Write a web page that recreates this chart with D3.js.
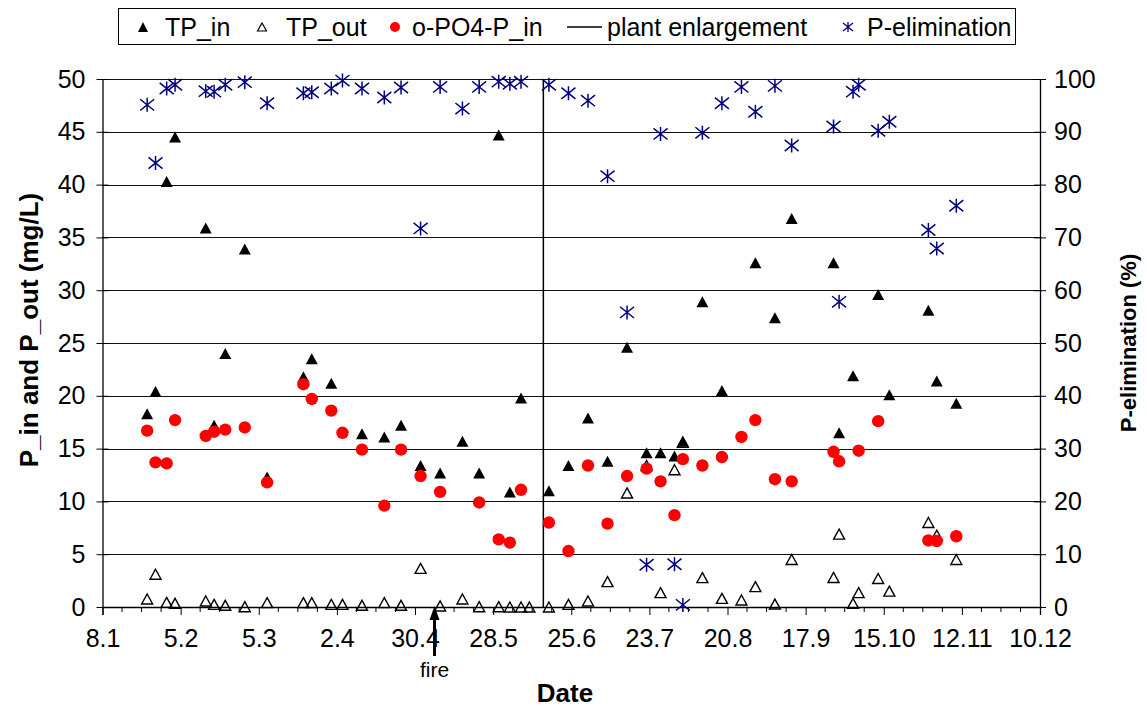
<!DOCTYPE html>
<html>
<head>
<meta charset="utf-8">
<script src="https://cdn.jsdelivr.net/npm/d3@7"></script>
<style>
  html, body { margin: 0; padding: 0; background: #fff; }
  svg { display: block; font-family: "Liberation Sans", Arial, sans-serif; }
</style>
</head>
<body>
<svg id="chart" width="1147" height="708"></svg>
<script>
// ---------------- DATA ----------------
const sampleDates = [
  "2001-01-24","2001-01-27","2001-01-31","2001-02-03","2001-02-14","2001-02-17","2001-02-21","2001-02-28",
  "2001-03-08","2001-03-21","2001-03-24","2001-03-31","2001-04-04","2001-04-11","2001-04-19","2001-04-25",
  "2001-05-02","2001-05-09","2001-05-17","2001-05-23","2001-05-30","2001-06-03","2001-06-07","2001-06-10",
  "2001-06-17","2001-06-24","2001-07-01","2001-07-08","2001-07-15","2001-07-22","2001-07-27","2001-08-01",
  "2001-08-04","2001-08-11","2001-08-18","2001-08-25","2001-08-30","2001-09-06","2001-09-12","2001-09-27",
  "2001-09-29","2001-10-04","2001-10-06","2001-10-13","2001-10-17","2001-10-31","2001-11-03","2001-11-10"
];
const tpIn = [
  18.3, 20.4, 40.3, 44.5, 35.9, 17.2, 24.0, 33.9,
  12.3, 21.8, 23.5, 21.2, null, 16.4, 16.1, 17.2,
  13.4, 12.7, 15.7, 12.7, 44.7, 10.9, 19.8, null,
  11.0, 13.4, 17.9, 13.8, 24.6, 14.6, 14.6, 14.3,
  15.7, 28.9, 20.5, null, 32.6, 27.4, 36.8, 32.6,
  16.5, 21.9, null, 29.6, 20.1, 28.1, 21.4, 19.3
];
const tpOut = [
  0.76, 3.1, 0.44, 0.35, 0.57, 0.25, 0.16, 0.03,
  0.41, 0.41, 0.41, 0.25, 0.25, 0.16, 0.41, 0.16,
  3.66, 0.10, 0.76, 0.03, 0.03, 0.0, 0.0, 0.0,
  0.0, 0.25, 0.57, 2.4, 10.8, 13.4, 1.36, 13.0,
  15.6, 2.78, 0.82, 0.66, 1.93, 0.28, 4.5, 2.8,
  6.9, 0.35, 1.36, 2.7, 1.5, 8.0, 6.8, 4.5
];
const oPO4 = [
  16.7, 13.7, 13.6, 17.7, 16.2, 16.6, 16.8, 17.0,
  11.8, 21.1, 19.7, 18.6, 16.5, 14.9, 9.6, 14.9,
  12.4, 10.9, null, 9.9, 6.4, 6.1, 11.1, null,
  8.0, 5.3, 13.4, 7.9, 12.4, 13.1, 11.9, 8.7,
  14.0, 13.4, 14.2, 16.1, 17.7, 12.1, 11.9, 14.7,
  13.8, null, 14.8, 17.6, null, 6.3, 6.25, 6.7
];
const pElim = [
  95.1, 84.1, 98.2, 98.9, 97.7, 97.6, 98.9, 99.4,
  95.4, 97.3, 97.5, 98.2, 99.7, 98.2, 96.5, 98.4,
  71.7, 98.5, 94.4, 98.5, 99.5, 99.1, 99.5, null,
  98.9, 97.3, 95.9, 81.6, 55.8, 8.0, 89.6, 8.1,
  0.4, 89.8, 95.4, 98.5, 93.8, 98.7, 87.4, 91.0,
  57.8, 97.6, 98.9, 90.2, 91.9, 71.4, 67.9, 76.0
];
const xTickDates = ["2001-01-08","2001-02-05","2001-03-05","2001-04-02","2001-04-30","2001-05-28",
  "2001-06-25","2001-07-23","2001-08-20","2001-09-17","2001-10-15","2001-11-12","2001-12-10"];
const xTickLabels = ["8.1","5.2","5.3","2.4","30.4","28.5","25.6","23.7","20.8","17.9","15.10","12.11","10.12"];
const yLeftTicks = [0, 5, 10, 15, 20, 25, 30, 35, 40, 45, 50];
const yRightTicks = [0, 10, 20, 30, 40, 50, 60, 70, 80, 90, 100];
const enlargementDate = "2001-06-15";
const fireDate = "2001-05-07";
const legendLabels = ["TP_in", "TP_out", "o-PO4-P_in", "plant enlargement", "P-elimination"];

// ---------------- CHART ----------------
const parse = d3.utcParse("%Y-%m-%d");
const svg = d3.select("#chart");
const L = 102.5, R = 1040, T = 79, B = 607;

const x = d3.scaleUtc().domain([parse(xTickDates[0]), parse(xTickDates[xTickDates.length - 1])]).range([L, R]);
const yL = d3.scaleLinear().domain([0, 50]).range([B, T]);
const yR = d3.scaleLinear().domain([0, 100]).range([B, T]);

const rows = sampleDates.map((d, i) => ({ date: parse(d), tpIn: tpIn[i], tpOut: tpOut[i], po4: oPO4[i], pel: pElim[i] }));

// gridlines
svg.append("g").selectAll("line").data(yLeftTicks).join("line")
  .attr("x1", L).attr("x2", R)
  .attr("y1", d => Math.round(yL(d)) + 0.5).attr("y2", d => Math.round(yL(d)) + 0.5)
  .attr("stroke", "#111").attr("stroke-width", 1);

// left axis
const gL = svg.append("g").attr("transform", `translate(${L},0)`)
  .call(d3.axisLeft(yL).tickValues(yLeftTicks).tickSize(0).tickPadding(17));
gL.select(".domain").attr("stroke", "#000").attr("stroke-width", 1.3);
gL.selectAll("text").attr("font-size", 25).attr("fill", "#000").attr("font-family", "Liberation Sans, Arial, sans-serif");
gL.selectAll(".tick").append("line").attr("x1", -6).attr("x2", 6).attr("stroke", "#000");

// right axis
const gR = svg.append("g").attr("transform", `translate(${R},0)`)
  .call(d3.axisRight(yR).tickValues(yRightTicks).tickSize(0).tickPadding(14));
gR.select(".domain").attr("stroke", "#000").attr("stroke-width", 1.3);
gR.selectAll("text").attr("font-size", 25).attr("fill", "#000").attr("font-family", "Liberation Sans, Arial, sans-serif");
gR.selectAll(".tick").append("line").attr("x1", -6).attr("x2", 6).attr("stroke", "#000");

// bottom axis (major ticks with labels)
const majorDates = xTickDates.map(parse);
const gB = svg.append("g").attr("transform", `translate(0,${B})`)
  .call(d3.axisBottom(x).tickValues(majorDates).tickSize(8).tickPadding(14)
    .tickFormat((d, i) => xTickLabels[i]));
gB.select(".domain").attr("stroke", "#000").attr("stroke-width", 1.3);
gB.selectAll(".tick line").attr("stroke", "#000");
gB.selectAll("text").attr("font-size", 25).attr("fill", "#000").attr("font-family", "Liberation Sans, Arial, sans-serif");
// minor ticks (weekly)
const minorDates = d3.utcDay.every(1).range(majorDates[0], d3.utcDay.offset(majorDates[majorDates.length - 1], 1))
  .filter((d, i) => i % 7 === 0 && i % 28 !== 0);
gB.append("g").selectAll("line").data(minorDates).join("line")
  .attr("x1", d => x(d)).attr("x2", d => x(d)).attr("y1", 0).attr("y2", 5).attr("stroke", "#000");

// plant enlargement line
const xe = x(parse(enlargementDate));
svg.append("line").attr("x1", xe).attr("x2", xe).attr("y1", T).attr("y2", B)
  .attr("stroke", "#000").attr("stroke-width", 1.5);

// marker shapes
const triUp = (w, h) => `M0,${-h / 2}L${w / 2},${h / 2}L${-w / 2},${h / 2}Z`;
const starPath = s => `M0,${-s}V${s}M${-s},${-s * 0.8}L${s},${s * 0.8}M${-s},${s * 0.8}L${s},${-s * 0.8}`;

// TP_in
svg.append("g").selectAll("path").data(rows.filter(r => r.tpIn != null)).join("path")
  .attr("transform", r => `translate(${x(r.date)},${yL(r.tpIn)})`)
  .attr("d", triUp(12, 11)).attr("fill", "#000");

// TP_out
svg.append("g").selectAll("path").data(rows.filter(r => r.tpOut != null)).join("path")
  .attr("transform", r => `translate(${x(r.date)},${yL(r.tpOut)})`)
  .attr("d", triUp(11, 10)).attr("fill", "none").attr("stroke", "#000").attr("stroke-width", 1.4);

// o-PO4-P_in
svg.append("g").selectAll("circle").data(rows.filter(r => r.po4 != null)).join("circle")
  .attr("cx", r => x(r.date)).attr("cy", r => yL(r.po4)).attr("r", 6.2).attr("fill", "#ff0000");

// P-elimination
svg.append("g").selectAll("path").data(rows.filter(r => r.pel != null)).join("path")
  .attr("transform", r => `translate(${x(r.date)},${yR(r.pel)})`)
  .attr("d", starPath(7)).attr("fill", "none").attr("stroke", "#000080").attr("stroke-width", 1.5);

// fire arrow
const xf = x(parse(fireDate));
svg.append("line").attr("x1", xf).attr("x2", xf).attr("y1", 617).attr("y2", 656)
  .attr("stroke", "#000").attr("stroke-width", 3);
svg.append("path").attr("d", `M${xf},${B - 1}L${xf + 5},${B + 13}L${xf - 5},${B + 13}Z`).attr("fill", "#000");
svg.append("text").attr("x", xf).attr("y", 677).attr("text-anchor", "middle")
  .attr("font-size", 21).text("fire");

// axis titles
svg.append("text").attr("x", 565).attr("y", 702).attr("text-anchor", "middle")
  .attr("font-size", 26).attr("font-weight", "bold").text("Date");
svg.append("text").attr("transform", "translate(38,330) rotate(-90)").attr("text-anchor", "middle")
  .attr("font-size", 26).attr("font-weight", "bold").text("P_in and P_out (mg/L)");
svg.append("text").attr("transform", "translate(1136,343) rotate(-90)").attr("text-anchor", "middle")
  .attr("font-size", 22).attr("font-weight", "bold").text("P-elimination (%)");

// legend
const lg = svg.append("g");
lg.append("rect").attr("x", 118.5).attr("y", 8.5).attr("width", 897).attr("height", 36)
  .attr("fill", "#fff").attr("stroke", "#000").attr("stroke-width", 1);
const ly = 27;
lg.append("path").attr("transform", `translate(143,${ly})`).attr("d", triUp(10, 10)).attr("fill", "#000");
lg.append("path").attr("transform", `translate(262,${ly})`).attr("d", triUp(9, 8)).attr("fill", "none").attr("stroke", "#000").attr("stroke-width", 1.2);
lg.append("circle").attr("cx", 395).attr("cy", ly).attr("r", 5).attr("fill", "#ff0000");
lg.append("line").attr("x1", 567).attr("x2", 602).attr("y1", ly).attr("y2", ly).attr("stroke", "#000").attr("stroke-width", 1.5);
lg.append("path").attr("transform", `translate(848,${ly})`).attr("d", starPath(5)).attr("fill", "none").attr("stroke", "#000080").attr("stroke-width", 1.3);
const lx = [165, 286, 412, 607, 867];
lg.selectAll("text").data(legendLabels).join("text")
  .attr("x", (d, i) => lx[i]).attr("y", ly + 9).attr("font-size", 25).text(d => d);
</script>
</body>
</html>
